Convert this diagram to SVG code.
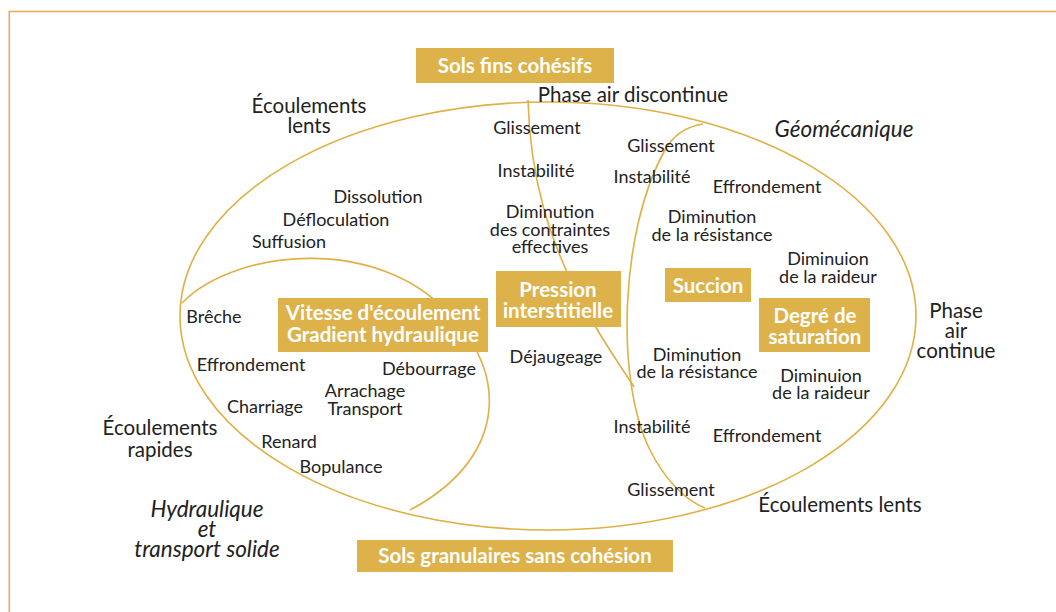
<svg xmlns="http://www.w3.org/2000/svg" width="1056" height="612" viewBox="0 0 1056 612">
<style>
.frame{stroke:#E8A95C;stroke-width:1.6;fill:none}
.curve{stroke:#DFB044;stroke-width:1.6;fill:none}
.box{fill:#DEB24A}
.bt{font-family:Lato,"Liberation Sans",sans-serif;font-weight:bold;font-size:20.5px;fill:#fff;text-anchor:middle}
.t{font-family:Lato,"Liberation Sans",sans-serif;font-size:18px;fill:#222;text-anchor:middle}
.tl{font-family:Lato,"Liberation Sans",sans-serif;font-size:20.5px;fill:#222;text-anchor:middle}
.it{font-style:italic;font-size:22.5px}
</style>
<rect width="1056" height="612" fill="#fff"/>
<path class="frame" d="M1056,11.5 H9.3 V612"/>
<g id="connectors">
<ellipse class="curve" cx="548" cy="316" rx="368" ry="214"/>
<path class="curve" d="M182,303 C235,248 380,235 450,315 C510,375 505,460 410,510"/>
<path class="curve" d="M528,100 C530,180 550,240 580,300 C605,345 620,365 634,387"/>
<path class="curve" d="M703,124 C690,126 675,132 665,150 C620,230 615,380 650,450 C665,480 685,500 705,508"/>
</g>
<g id="n-sols-fins"><rect class="box" x="416" y="48" width="198" height="35"/><text class="bt" x="515" y="73">Sols fins cohésifs</text></g>
<g id="n-sols-gran"><rect class="box" x="357" y="540" width="316" height="32"/><text class="bt" x="515" y="563">Sols granulaires sans cohésion</text></g>
<g id="n-vitesse"><rect class="box" x="278" y="298" width="210" height="54"/><text class="bt" x="383" y="320">Vitesse d'écoulement</text><text class="bt" x="383" y="342">Gradient hydraulique</text></g>
<g id="n-pression"><rect class="box" x="496" y="271" width="125" height="56"/><text class="bt" x="558" y="297">Pression</text><text class="bt" x="558" y="318">interstitielle</text></g>
<g id="n-succion"><rect class="box" x="665" y="268" width="86" height="34"/><text class="bt" x="708" y="293">Succion</text></g>
<g id="n-degre"><rect class="box" x="759" y="298" width="111" height="54"/><text class="bt" x="815" y="323">Degré de</text><text class="bt" x="815" y="344">saturation</text></g>

<g id="labels-large">
<text class="tl" x="309" y="113">Écoulements</text><text class="tl" x="309" y="133">lents</text>
<text class="tl" x="633" y="102">Phase air discontinue</text>
<text class="tl it" x="844" y="137">Géomécanique</text>
<text class="tl" x="956" y="318">Phase</text><text class="tl" x="956" y="338">air</text><text class="tl" x="956" y="358">continue</text>
<text class="tl" x="840" y="512">Écoulements lents</text>
<text class="tl" x="160" y="435">Écoulements</text><text class="tl" x="160" y="457">rapides</text>
<text class="tl it" x="207" y="517">Hydraulique</text><text class="tl it" x="207" y="537">et</text><text class="tl it" x="207" y="557">transport solide</text>
</g>
<g id="labels-left">
<text class="t" x="378" y="203">Dissolution</text>
<text class="t" x="336" y="226">Défloculation</text>
<text class="t" x="289" y="248">Suffusion</text>
<text class="t" x="214" y="323">Brêche</text>
<text class="t" x="251" y="371">Effrondement</text>
<text class="t" x="429" y="375">Débourrage</text>
<text class="t" x="365" y="397">Arrachage</text><text class="t" x="365" y="415">Transport</text>
<text class="t" x="265" y="413">Charriage</text>
<text class="t" x="289" y="448">Renard</text>
<text class="t" x="341" y="473">Bopulance</text>
</g>
<g id="labels-center">
<text class="t" x="537" y="134">Glissement</text>
<text class="t" x="536" y="177">Instabilité</text>
<text class="t" x="550" y="218">Diminution</text><text class="t" x="550" y="236">des contraintes</text><text class="t" x="550" y="253">effectives</text>
<text class="t" x="556" y="363">Déjaugeage</text>
</g>
<g id="labels-right">
<text class="t" x="671" y="152">Glissement</text>
<text class="t" x="652" y="183">Instabilité</text>
<text class="t" x="767" y="193">Effrondement</text>
<text class="t" x="712" y="223">Diminution</text><text class="t" x="712" y="241">de la résistance</text>
<text class="t" x="828" y="265">Diminuion</text><text class="t" x="828" y="283">de la raideur</text>
<text class="t" x="697" y="361">Diminution</text><text class="t" x="697" y="378">de la résistance</text>
<text class="t" x="821" y="382">Diminuion</text><text class="t" x="821" y="399">de la raideur</text>
<text class="t" x="652" y="433">Instabilité</text>
<text class="t" x="767" y="442">Effrondement</text>
<text class="t" x="671" y="496">Glissement</text>
</g>
</svg>
